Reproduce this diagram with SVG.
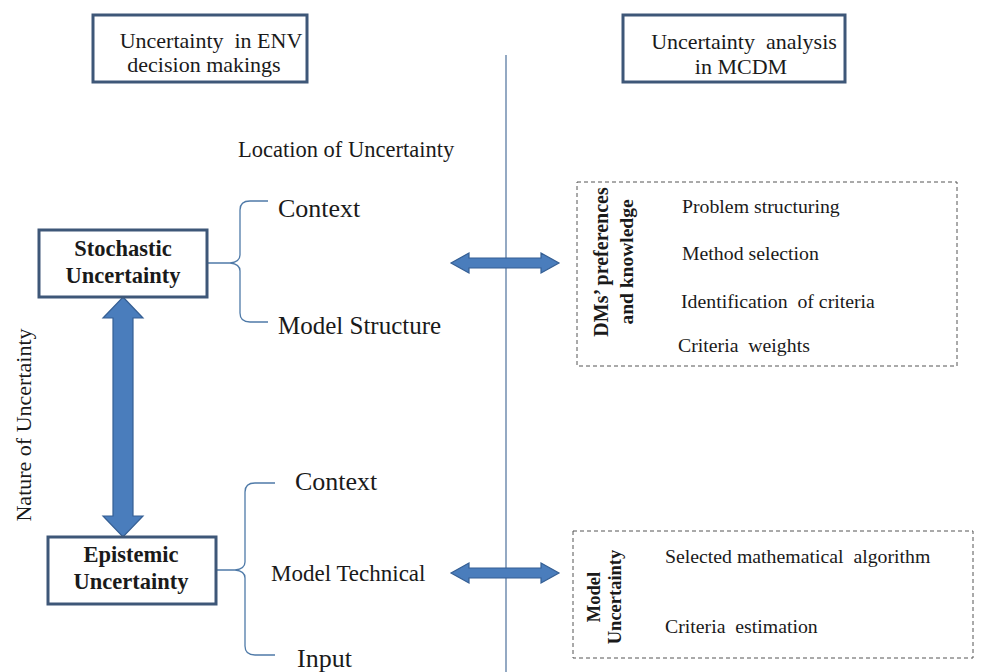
<svg xmlns="http://www.w3.org/2000/svg" width="982" height="672" viewBox="0 0 982 672">
<style>
.t{font-family:'Liberation Serif','DejaVu Serif',serif;fill:#1a1a1a}
.box{fill:#fff;stroke:#3e5778;stroke-width:3}
.nbox{fill:#fff;stroke:#3e5778;stroke-width:3}
.dash{fill:none;stroke:#555;stroke-width:1;stroke-dasharray:4,3}
.brace{fill:none;stroke:#4f7aa8;stroke-width:1.3}
.arr{fill:#4a7dbc;stroke:#355f94;stroke-width:1.2}
.b{font-weight:bold}
.it{font-size:19.8px}
</style>
<rect width="982" height="672" fill="#fff"/>
<g id="connectors">
<line x1="506" y1="55" x2="506" y2="672" stroke="#5a7ba3" stroke-width="1.3"/>
<path class="brace" d="M207,263 L230,263 Q240,262 240,255 L240,210 Q240,201 250,201 L268,201 M230,263 Q240,264 240,271 L240,313 Q240,322 250,322 L268,322"/>
<path class="brace" d="M216,570 L235,570 Q245,569 245,562 L245,492 Q245,483 255,483 L275,483 M235,570 Q245,571 245,578 L245,646 Q245,655 255,655 L275,655"/>
<path class="arr" d="M123,297 L143,318 L133,318 L133,516 L143,516 L123,537 L103,516 L113,516 L113,318 L103,318 Z"/>
<path class="arr" d="M451,263 L469,253 L469,258 L541,258 L541,253 L559,263 L541,273 L541,268 L469,268 L469,273 Z"/>
<path class="arr" d="M451,573 L469,563 L469,568 L541,568 L541,563 L559,573 L541,583 L541,578 L469,578 L469,583 Z"/>
</g>
<g id="title-left">
<rect class="box" x="93" y="15" width="214" height="67"/>
<text class="t" x="211" y="48" font-size="22" text-anchor="middle" xml:space="preserve">Uncertainty  in ENV</text>
<text class="t" x="204" y="72" font-size="22" text-anchor="middle">decision makings</text>
</g>
<g id="title-right">
<rect class="box" x="623" y="15" width="222" height="67"/>
<text class="t" x="744" y="49" font-size="22" text-anchor="middle" xml:space="preserve">Uncertainty  analysis</text>
<text class="t" x="741" y="74" font-size="22" text-anchor="middle">in MCDM</text>
</g>
<g id="location-label">
<text class="t" x="238" y="157" font-size="22.5">Location of Uncertainty</text>
</g>
<g id="nature-label">
<text class="t" transform="translate(31,425) rotate(-90)" font-size="22" text-anchor="middle">Nature of Uncertainty</text>
</g>
<g id="stochastic">
<rect class="nbox" x="39" y="230" width="168" height="67"/>
<text class="t b" x="123" y="256" font-size="22.5" text-anchor="middle">Stochastic</text>
<text class="t b" x="123" y="283" font-size="22.5" text-anchor="middle">Uncertainty</text>
</g>
<g id="epistemic">
<rect class="nbox" x="48" y="537" width="168" height="67"/>
<text class="t b" x="131" y="562" font-size="22.5" text-anchor="middle">Epistemic</text>
<text class="t b" x="131" y="589" font-size="22.5" text-anchor="middle">Uncertainty</text>
</g>
<g id="stoch-items">
<text class="t" x="278" y="217" font-size="26">Context</text>
<text class="t" x="278" y="334" font-size="25">Model Structure</text>
</g>
<g id="epist-items">
<text class="t" x="295" y="490" font-size="26">Context</text>
<text class="t" x="271" y="581" font-size="23">Model Technical</text>
<text class="t" x="297" y="667" font-size="26">Input</text>
</g>
<g id="dms-box">
<rect class="dash" x="577" y="182" width="380" height="184"/>
<text class="t b" transform="translate(608,262) rotate(-90)" font-size="20" text-anchor="middle">DMs’ preferences</text>
<text class="t b" transform="translate(633,262) rotate(-90)" font-size="19.5" text-anchor="middle">and knowledge</text>
<text class="t it" x="682" y="213">Problem structuring</text>
<text class="t it" x="682" y="260">Method selection</text>
<text class="t it" x="681" y="308" xml:space="preserve">Identification  of criteria</text>
<text class="t it" x="678" y="352" xml:space="preserve">Criteria  weights</text>
</g>
<g id="model-box">
<rect class="dash" x="573" y="531" width="400" height="127"/>
<text class="t b" transform="translate(600,597) rotate(-90)" font-size="18.5" text-anchor="middle">Model</text>
<text class="t b" transform="translate(621,597) rotate(-90)" font-size="18.5" text-anchor="middle">Uncertainty</text>
<text class="t it" x="665" y="563" xml:space="preserve">Selected mathematical  algorithm</text>
<text class="t it" x="665" y="633" xml:space="preserve">Criteria  estimation</text>
</g>
</svg>
